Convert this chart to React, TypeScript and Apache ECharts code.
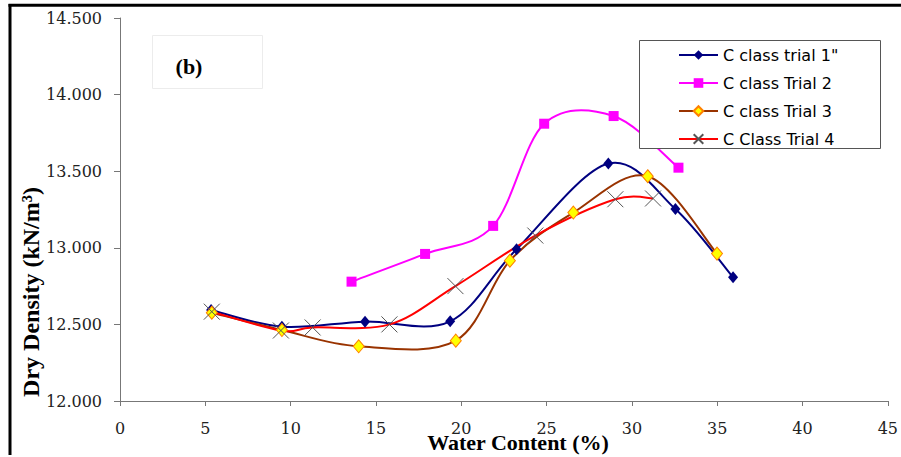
import { useEffect, useRef } from "react";
import * as echarts from "echarts";

const seriesNames = ['C class trial 1"', "C class Trial 2", "C class Trial 3", "C Class Trial 4"];

const trial1X = [5.34, 9.49, 14.36, 19.35, 23.24, 28.62, 32.55, 35.93];
const trial1Y = [12.594, 12.485, 12.518, 12.52, 12.99, 13.55, 13.253, 12.807];

const trial2X = [13.57, 17.88, 21.87, 24.86, 28.93, 32.73];
const trial2Y = [12.779, 12.96, 13.143, 13.81, 13.86, 13.523];

const trial3X = [5.38, 9.49, 13.99, 19.68, 22.85, 26.57, 30.93, 34.99];
const trial3Y = [12.576, 12.463, 12.357, 12.394, 12.916, 13.23, 13.467, 12.962];

const trial4X = [5.38, 9.43, 11.29, 15.79, 19.66, 24.34, 29.03, 31.24];
const trial4Y = [12.583, 12.46, 12.48, 12.5, 12.75, 13.08, 13.317, 13.322];

const xMin = 0;
const xMax = 45;
const xStep = 5;
const yMin = 12;
const yMax = 14.5;
const yStep = 0.5;

const xTitle = "Water Content (%)";
const yTitle = "Dry Density (kN/m³)";
const panelLabel = "(b)";

const zip = (xs: number[], ys: number[]) => xs.map((x, i) => [x, ys[i]]);

const crossPath = "path://M0,0L10,10M10,0L0,10";

// Smooth curve (Catmull-Rom style, like a spreadsheet's smoothed line) drawn
// through the data points, segment by segment, with the axes' own coordinates.
function curveSeries(name: string, xs: number[], ys: number[], color: string) {
  const data = zip(xs, ys);
  return {
    name: name + " curve",
    type: "custom",
    z: 2,
    silent: true,
    encode: { x: 0, y: 1 },
    data,
    renderItem: (params: any, api: any) => {
      const i = params.dataIndex;
      const n = data.length;
      if (i >= n - 1) return null;
      const p = (k: number) => api.coord(data[Math.max(0, Math.min(n - 1, k))]);
      const p0 = p(i - 1);
      const p1 = p(i);
      const p2 = p(i + 1);
      const p3 = p(i + 2);
      return {
        type: "bezierCurve",
        shape: {
          x1: p1[0],
          y1: p1[1],
          x2: p2[0],
          y2: p2[1],
          cpx1: p1[0] + (p2[0] - p0[0]) / 6,
          cpy1: p1[1] + (p2[1] - p0[1]) / 6,
          cpx2: p2[0] - (p3[0] - p1[0]) / 6,
          cpy2: p2[1] - (p3[1] - p1[1]) / 6,
        },
        style: { stroke: color, lineWidth: 2, fill: "none" },
      };
    },
  };
}

export default function App() {
  const ref = useRef<HTMLDivElement>(null);
  useEffect(() => {
    const chart = echarts.init(ref.current!, null, { renderer: "svg" });
    const tickFont = { fontFamily: "DejaVu Serif", fontSize: 16, color: "#222" };
    const colors = ["#000080", "#ff00ff", "#993300", "#ff0000"];
    const option: any = {
      animation: false,
      backgroundColor: "#fff",
      grid: { left: 120, right: 13, top: 18, bottom: 56, containLabel: false },
      xAxis: {
        type: "value",
        min: xMin,
        max: xMax,
        interval: xStep,
        axisLine: { lineStyle: { color: "#777", width: 1 } },
        axisTick: { show: true, length: 5, lineStyle: { color: "#777" } },
        splitLine: { show: false },
        axisLabel: { ...tickFont, margin: 19 },
      },
      yAxis: {
        type: "value",
        min: yMin,
        max: yMax,
        interval: yStep,
        axisLine: { show: true, lineStyle: { color: "#777", width: 1 } },
        axisTick: { show: true, length: 6, lineStyle: { color: "#777" } },
        splitLine: { show: false },
        axisLabel: { ...tickFont, margin: 18, formatter: (v: number) => v.toFixed(3) },
      },
      legend: {
        orient: "vertical",
        left: 678,
        top: 45,
        padding: 0,
        itemWidth: 39,
        itemHeight: 12,
        itemGap: 8,
        z: 6,
        textStyle: { fontFamily: "DejaVu Sans", fontSize: 16, color: "#000", lineHeight: 20 },
        data: seriesNames.map((name, i) => ({
          name,
          lineStyle: { color: colors[i], width: 2, opacity: 1 },
        })),
      },
      graphic: [
        {
          type: "rect",
          z: 5,
          shape: { x: 639.5, y: 40.5, width: 241, height: 108 },
          style: { fill: "#fff", stroke: "#555", lineWidth: 1 },
        },
        {
          type: "rect",
          z: 1,
          shape: { x: 152.5, y: 35.5, width: 110, height: 53 },
          style: { fill: "#fff", stroke: "#ececec", lineWidth: 1 },
        },
        {
          type: "text",
          z: 6,
          x: 189,
          y: 66,
          style: {
            text: panelLabel,
            font: "bold 22px 'Liberation Serif'",
            fill: "#000",
            align: "center",
            verticalAlign: "middle",
          },
        },
        {
          type: "text",
          z: 6,
          x: 518,
          y: 442,
          style: {
            text: xTitle,
            font: "bold 22px 'Liberation Serif'",
            fill: "#000",
            align: "center",
            verticalAlign: "middle",
          },
        },
        {
          type: "text",
          z: 6,
          x: 31,
          y: 292,
          rotation: Math.PI / 2,
          style: {
            text: yTitle,
            font: "bold 24px 'Liberation Serif'",
            fill: "#000",
            align: "center",
            verticalAlign: "middle",
          },
        },
        {
          type: "line",
          z: 6,
          shape: { x1: 8.5, y1: 5.3, x2: 901, y2: 5.3 },
          style: { stroke: "#000", lineWidth: 3 },
        },
        {
          type: "line",
          z: 6,
          shape: { x1: 10, y1: 4, x2: 10, y2: 455 },
          style: { stroke: "#000", lineWidth: 3 },
        },
      ],
      series: [
        curveSeries(seriesNames[0], trial1X, trial1Y, colors[0]),
        curveSeries(seriesNames[1], trial2X, trial2Y, colors[1]),
        curveSeries(seriesNames[2], trial3X, trial3Y, colors[2]),
        curveSeries(seriesNames[3], trial4X, trial4Y, colors[3]),
        {
          name: seriesNames[0],
          type: "line",
          z: 3,
          data: zip(trial1X, trial1Y),
          symbol: "diamond",
          symbolSize: [10, 12],
          lineStyle: { color: colors[0], width: 2, opacity: 0 },
          itemStyle: { color: "#000080" },
        },
        {
          name: seriesNames[1],
          type: "line",
          z: 3,
          data: zip(trial2X, trial2Y),
          symbol: "rect",
          symbolSize: 10,
          lineStyle: { color: colors[1], width: 2, opacity: 0 },
          itemStyle: { color: "#ff00ff" },
        },
        {
          name: seriesNames[2],
          type: "line",
          z: 3,
          data: zip(trial3X, trial3Y),
          symbol: "diamond",
          symbolSize: [11, 13],
          lineStyle: { color: colors[2], width: 2, opacity: 0 },
          itemStyle: { color: "#ffff00", borderColor: "#ff8000", borderWidth: 1 },
        },
        {
          name: seriesNames[3],
          type: "line",
          z: 3,
          data: zip(trial4X, trial4Y),
          symbol: crossPath,
          symbolSize: 16,
          lineStyle: { color: colors[3], width: 2, opacity: 0 },
          itemStyle: { color: "none", borderColor: "#555", borderWidth: 1 },
        },
      ],
    };
    chart.setOption(option);
    return () => chart.dispose();
  }, []);
  return (
    <div
      ref={ref}
      style={{ position: "absolute", left: 0, top: 0, width: 901, height: 457, background: "#fff" }}
    />
  );
}
